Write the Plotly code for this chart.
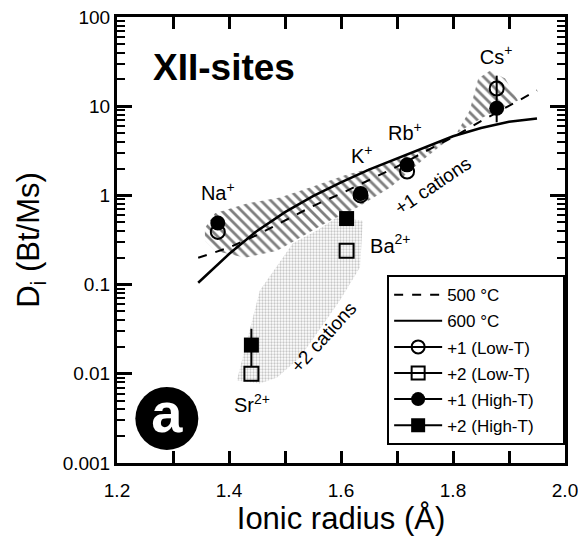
import numpy as np
import plotly.graph_objects as go

# ---------------- data ----------------
ions = ["Na<sup>+</sup>", "K<sup>+</sup>", "Rb<sup>+</sup>", "Cs<sup>+</sup>", "Ba<sup>2+</sup>", "Sr<sup>2+</sup>"]
label_x = [1.38, 1.637, 1.714, 1.877, 1.688, 1.441]
label_y = [1.0, 2.6, 4.7, 34, 0.26, 0.0042]

r1 = [1.38, 1.635, 1.718, 1.878]          # +1 cations radii
d1_low = [0.39, 1.0, 1.85, 15.8]          # +1 (Low-T)
d1_high = [0.49, 1.05, 2.2, 9.5]          # +1 (High-T)
d1_high_err_plus = [0, 0, 0, 12.5]
d1_high_err_minus = [0, 0, 0, 2.9]

r2 = [1.44, 1.61]                          # +2 cations radii
d2_low = [0.010, 0.24]                     # +2 (Low-T)
d2_high = [0.021, 0.55]                    # +2 (High-T)
d2_high_err_plus = [0.011, 0]
d2_high_err_minus = [0.009, 0]

curve_x = [1.345, 1.40, 1.45, 1.50, 1.55, 1.60, 1.65, 1.70, 1.75, 1.80, 1.85, 1.90, 1.95]
curve_600 = [0.105, 0.22, 0.40, 0.65, 0.98, 1.40, 1.95, 2.6, 3.5, 4.6, 5.7, 6.7, 7.3]
curve_500 = [0.20, 0.26, 0.36, 0.52, 0.76, 1.05, 1.5, 2.1, 3.1, 4.5, 6.8, 10.0, 15.0]

hatch_x = [1.357, 1.375, 1.432, 1.491, 1.550, 1.607, 1.670, 1.741, 1.804, 1.830, 1.845, 1.866, 1.893, 1.916,
           1.893, 1.854, 1.807, 1.746, 1.688, 1.629, 1.580, 1.527, 1.486, 1.429, 1.375, 1.357]
hatch_y = [0.43, 0.63, 0.81, 0.95, 1.26, 1.68, 2.17, 3.2, 4.7, 9.0, 20.5, 25, 20.5, 11.6,
           9.9, 7.5, 5.0, 2.5, 1.23, 0.73, 0.52, 0.34, 0.24, 0.20, 0.24, 0.31]

gray_x = [1.414, 1.455, 1.514, 1.557, 1.593, 1.639, 1.634, 1.598, 1.527, 1.486, 1.455, 1.414]
gray_y = [0.0084, 0.086, 0.29, 0.405, 0.57, 0.52, 0.156, 0.0665, 0.0153, 0.0091, 0.0078, 0.0084]

x_ticks = [1.2, 1.3, 1.4, 1.5, 1.6, 1.7, 1.8, 1.9, 2.0]
x_ticktext = ["1.2", "", "1.4", "", "1.6", "", "1.8", "", "2.0"]
y_ticks = [0.001, 0.01, 0.1, 1, 10, 100]
y_ticktext = ["0.001", "0.01", "0.1", "1", "10", "100"]

legend_names = ["500 °C", "600 °C", "+1 (Low-T)", "+2 (Low-T)", "+1 (High-T)", "+2 (High-T)"]

FONT = "Liberation Sans, Arial, sans-serif"
PAD = "\u00a0" * 5

fig = go.Figure()

# shaded regions
fig.add_trace(go.Scatter(x=gray_x, y=gray_y, mode="lines", fill="toself",
                         line=dict(width=0), fillcolor="rgba(0,0,0,0)",
                         fillpattern=dict(shape=".", fgcolor="#8f8f8f", bgcolor="rgba(0,0,0,0)",
                                          size=3, solidity=0.45),
                         showlegend=False, hoverinfo="skip"))
fig.add_trace(go.Scatter(x=hatch_x, y=hatch_y, mode="lines", fill="toself",
                         line=dict(width=0), fillcolor="rgba(0,0,0,0)",
                         fillpattern=dict(shape="\\", fgcolor="black", bgcolor="rgba(0,0,0,0)",
                                          size=7, solidity=0.4),
                         showlegend=False, hoverinfo="skip"))

# curves
fig.add_trace(go.Scatter(x=curve_x, y=curve_500, mode="lines", line=dict(color="black", width=2, dash="dash"),
                         showlegend=False))
fig.add_trace(go.Scatter(x=curve_x, y=curve_600, mode="lines", line=dict(color="black", width=2.5),
                         showlegend=False))

# points
fig.add_trace(go.Scatter(x=r1, y=d1_low, mode="markers",
                         marker=dict(symbol="circle-open", size=14, color="black", line=dict(width=2)),
                         showlegend=False))
fig.add_trace(go.Scatter(x=r2, y=d2_low, mode="markers",
                         marker=dict(symbol="square-open", size=14, color="black", line=dict(width=2)),
                         showlegend=False))
fig.add_trace(go.Scatter(x=r1, y=d1_high, mode="markers",
                         marker=dict(symbol="circle", size=15, color="black"),
                         error_y=dict(type="data", array=d1_high_err_plus, arrayminus=d1_high_err_minus,
                                      color="black", thickness=2, width=0),
                         showlegend=False))
fig.add_trace(go.Scatter(x=r2, y=d2_high, mode="markers",
                         marker=dict(symbol="square", size=15, color="black"),
                         error_y=dict(type="data", array=d2_high_err_plus, arrayminus=d2_high_err_minus,
                                      color="black", thickness=2, width=0),
                         showlegend=False))

# ion labels
fig.add_trace(go.Scatter(x=label_x, y=label_y, mode="text", text=ions,
                         textfont=dict(family=FONT, size=20, color="black"),
                         showlegend=False, hoverinfo="skip"))

# panel badge "a"
fig.add_trace(go.Scatter(x=[1.289], y=[0.00316], mode="markers+text", text=["a"],
                         textposition="middle center",
                         marker=dict(symbol="circle", size=63, color="black"),
                         textfont=dict(family=FONT, size=56, color="white", weight="bold"),
                         showlegend=False, hoverinfo="skip"))

# legend entries
leg_styles = [
    (dict(color="black", width=2, dash="dash"), None),
    (dict(color="black", width=2), None),
    (dict(color="black", width=2), dict(symbol="circle-open", size=13, color="black", line=dict(width=2))),
    (dict(color="black", width=2), dict(symbol="square-open", size=13, color="black", line=dict(width=2))),
    (dict(color="black", width=2), dict(symbol="circle", size=14, color="black")),
    (dict(color="black", width=2), dict(symbol="square", size=14, color="black")),
]
for i, (name, (ln, mk)) in enumerate(zip(legend_names, leg_styles)):
    fig.add_trace(go.Scatter(x=[None], y=[None], name=name + PAD,
                             mode="lines" if mk is None else "lines+markers",
                             line=ln, marker=mk if mk else None,
                             legendgroup=f"g{i}", showlegend=True))

fig.update_layout(
    width=578, height=533,
    margin=dict(l=109, r=21, t=9, b=78, autoexpand=False),
    paper_bgcolor="white", plot_bgcolor="white",
    font=dict(family=FONT, color="black"),
    showlegend=True,
    legend=dict(x=0.603, xanchor="left", y=0.04, yanchor="bottom",
                bgcolor="white", bordercolor="black", borderwidth=2,
                font=dict(family=FONT, size=17, color="black"),
                tracegroupgap=1, itemwidth=48),
    annotations=[
        dict(x=1.26, y=np.log10(27), xref="x", yref="y", text="<b>XII-sites</b>", showarrow=False,
             xanchor="left", font=dict(family=FONT, size=37, color="black")),
        dict(x=1.764, y=np.log10(1.3), xref="x", yref="y", text="+1 cations", showarrow=False,
             textangle=-34, font=dict(family=FONT, size=19, color="black")),
        dict(x=1.568, y=np.log10(0.0256), xref="x", yref="y", text="+2 cations", showarrow=False,
             textangle=-48, font=dict(family=FONT, size=19, color="black")),
    ],
)

fig.update_xaxes(range=[1.2, 2.0], tickvals=x_ticks, ticktext=x_ticktext, automargin=False,
                 ticks="inside", ticklen=12, tickwidth=2.5, tickcolor="black",
                 showline=True, linewidth=3, linecolor="black", mirror="ticks",
                 showgrid=False, zeroline=False, ticklabelstandoff=8, ticklabeloverflow="allow",
                 tickfont=dict(family=FONT, size=19, color="black"),
                 title=dict(text="Ionic radius (Å)", font=dict(family=FONT, size=31, color="black"), standoff=4))
fig.update_yaxes(type="log", range=[-3, 2], tickvals=y_ticks, ticktext=y_ticktext, automargin=False,
                 ticks="inside", ticklen=15, tickwidth=2.5, tickcolor="black",
                 minor=dict(ticks="inside", ticklen=8, tickwidth=2, tickcolor="black", dtick="D1", showgrid=False),
                 showline=True, linewidth=3, linecolor="black", mirror="ticks",
                 showgrid=False, zeroline=False, ticklabeloverflow="allow",
                 tickfont=dict(family=FONT, size=19, color="black"),
                 title=dict(text="D<sub>i</sub> (Bt/Ms)", font=dict(family=FONT, size=31, color="black"), standoff=14))

fig.write_html("out.html")
